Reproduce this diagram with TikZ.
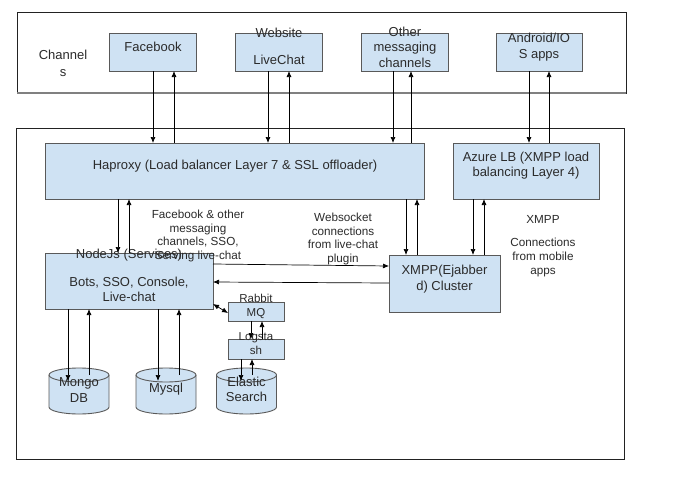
\documentclass[tikz,border=0pt]{standalone}
\usepackage{fontspec}
\setmainfont{Liberation Sans}
\usetikzlibrary{arrows.meta}
\definecolor{boxfill}{HTML}{CFE2F3}
\definecolor{boxdraw}{HTML}{595959}
\definecolor{txtc}{HTML}{2B2B2B}
\definecolor{framec}{HTML}{222222}
\begin{document}
\begin{tikzpicture}[x=1pt,y=-1pt,
  box/.style={draw=boxdraw, fill=boxfill, line width=0.9pt, inner sep=0pt, outer sep=0pt},
  frame/.style={draw=framec, line width=0.8pt, inner sep=0pt, outer sep=0pt},
  txt/.style={text=txtc, font=\fontsize{13}{15.5}\selectfont, align=center, inner sep=0pt},
  lbl/.style={text=txtc, font=\fontsize{11.7}{13.6}\selectfont, align=center, inner sep=0pt},
  arr/.style={draw=black, line width=0.7pt, -{Latex[length=6pt,width=5pt]}},
  dbl/.style={draw=black, line width=0.7pt, {Latex[length=6pt,width=5pt]}-{Latex[length=6pt,width=5pt]}},
  cyl/.style={fill=boxfill, draw=boxdraw, line width=0.9pt},
  hole/.style={draw=none, inner sep=0pt, outer sep=0pt}
]
\useasboundingbox (0,0) rectangle (683,480);
\fill[white] (0,0) rectangle (683,480);

% frames
\node[frame, minimum width=609pt, minimum height=81pt] (chan) at (321.5,52.5) {};
\draw[gray, line width=1.6pt] (chan.south west) -- (chan.south east);
\node[frame, minimum width=608pt, minimum height=331pt] (main) at (320,293.5) {};

% channel boxes
\node[box, minimum width=87pt, minimum height=38pt] (fb) at (152.5,52) {};
\node[box, minimum width=87pt, minimum height=38pt] (web) at (278.5,52) {};
\node[box, minimum width=87pt, minimum height=38pt] (oth) at (404.5,52) {};
\node[box, minimum width=86pt, minimum height=38pt] (andr) at (539,52) {};

% main boxes
\node[box, minimum width=379pt, minimum height=56pt] (hap) at (234.5,171) {};
\node[box, minimum width=146pt, minimum height=56pt] (az) at (526,171) {};
\node[box, minimum width=168pt, minimum height=56pt] (nodejs) at (129,281) {};
\node[box, minimum width=111pt, minimum height=57pt] (xmpp) at (444.5,283.5) {};
\node[box, minimum width=56pt, minimum height=19pt] (rabbit) at (256,311.5) {};
\node[box, minimum width=56pt, minimum height=20pt] (logst) at (256,349) {};

% cylinders
\foreach \cx/\nm in {79/mongo,166/mysql,246.5/elastic}{
  \begin{scope}[shift={(\cx,0)}]
    \filldraw[cyl] (-30,375) -- (-30,407) arc[start angle=180, end angle=0, x radius=30, y radius=7]
      -- (30,375) arc[start angle=0, end angle=-180, x radius=30, y radius=7] -- cycle;
    \draw[cyl, fill=none] (-30,375) arc[start angle=180, end angle=0, x radius=30, y radius=7];
  \end{scope}
  \node[hole, minimum width=60pt, minimum height=46pt] (\nm) at (\cx,391) {};
  \coordinate (\nm-in) at (\cx,381);
  \coordinate (\nm-out) at (\cx,375);
}

% texts
\node[txt, font=\fontsize{13}{17}\selectfont] (tchan) at (63,63.5) {Channel\\s};
\node[txt] (tfb) at (153,47) {Facebook};
\node[txt, font=\fontsize{13}{27}\selectfont] (tweb) at (279,46.5) {Website\\LiveChat};
\node[txt] (toth) at (405,47) {Other\\messaging\\channels};
\node[txt, font=\fontsize{13}{16}\selectfont] (tand) at (539,47) {Android/IO\\S apps};
\node[txt] (thap) at (235,166) {Haproxy (Load balancer Layer 7 \& SSL offloader)};
\node[txt, font=\fontsize{13}{15}\selectfont] (taz) at (526,165.5) {Azure LB (XMPP load\\balancing Layer 4)};
\node[txt] (tnodeh) at (129,255) {NodeJs (Services)};
\node[txt, font=\fontsize{13}{15}\selectfont] (tnode) at (129,289.5) {Bots, SSO, Console,\\Live-chat};
\node[txt, font=\fontsize{13}{16}\selectfont] (txmpp) at (444.5,279) {XMPP(Ejabber\\d) Cluster};
\node[txt, font=\fontsize{11.5}{14}\selectfont] (trab) at (256,306) {Rabbit\\MQ};
\node[txt, font=\fontsize{11.5}{14}\selectfont] (tlog) at (256,344) {Logsta\\sh};
\node[txt, font=\fontsize{13}{16}\selectfont] (tmongo) at (79,390) {Mongo\\DB};
\node[txt] (tmysql) at (166,389) {Mysql};
\node[txt, font=\fontsize{13}{15}\selectfont] (telastic) at (246.5,389.5) {Elastic\\Search};
\node[lbl] (lfb) at (198,236) {Facebook \& other\\messaging\\channels, SSO,\\Serving live-chat};
\node[lbl] (lws) at (343,239) {Websocket\\connections\\from live-chat\\plugin};
\node[lbl] (lxm) at (543,219) {XMPP};
\node[lbl] (lcon) at (543,257.5) {Connections\\from mobile\\apps};

% channels <-> haproxy / azure
\draw[arr] (153,0 |- fb.south) -- (153,0 |- hap.north);
\draw[arr] (174,0 |- hap.north) -- (174,0 |- fb.south);
\draw[arr] (268,0 |- web.south) -- (268,0 |- hap.north);
\draw[arr] (289,0 |- hap.north) -- (289,0 |- web.south);
\draw[arr] (393,0 |- oth.south) -- (393,0 |- hap.north);
\draw[arr] (411,0 |- hap.north) -- (411,0 |- oth.south);
\draw[arr] (529,0 |- andr.south) -- (529,0 |- az.north);
\draw[arr] (549,0 |- az.north) -- (549,0 |- andr.south);

% haproxy <-> nodejs, xmpp
\draw[arr] (118,0 |- hap.south) -- (118,0 |- nodejs.north);
\draw[arr] (129,0 |- nodejs.north) -- (129,0 |- hap.south);
\draw[arr] (406,0 |- hap.south) -- (406,0 |- xmpp.north);
\draw[arr] (417,0 |- xmpp.north) -- (417,0 |- hap.south);
\draw[arr] (473,0 |- az.south) -- (473,0 |- xmpp.north);
\draw[arr] (484,0 |- xmpp.north) -- (484,0 |- az.south);

% nodejs <-> xmpp
\draw[arr] (nodejs.east |- 0,264) -- (xmpp.west |- 0,266);
\draw[arr] (xmpp.west |- 0,283) -- (nodejs.east |- 0,282);

% nodejs <-> rabbit, rabbit <-> logstash
\draw[dbl] (nodejs.east |- 0,304) -- (rabbit.west |- 0,313);
\draw[arr] (251,0 |- rabbit.south) -- (251,0 |- logst.north);
\draw[arr] (262,0 |- logst.north) -- (262,0 |- rabbit.south);

% databases
\draw[arr] (68,0 |- nodejs.south) -- (68,0 |- mongo-in);
\draw[arr] (89,0 |- mongo-out) -- (89,0 |- nodejs.south);
\draw[arr] (158,0 |- nodejs.south) -- (158,0 |- mysql-in);
\draw[arr] (179,0 |- mysql-out) -- (179,0 |- nodejs.south);
\draw[arr] (241,0 |- logst.south) -- (241,0 |- elastic-in);
\draw[arr] (252,0 |- elastic-out) -- (252,0 |- logst.south);
\end{tikzpicture}
\end{document}
